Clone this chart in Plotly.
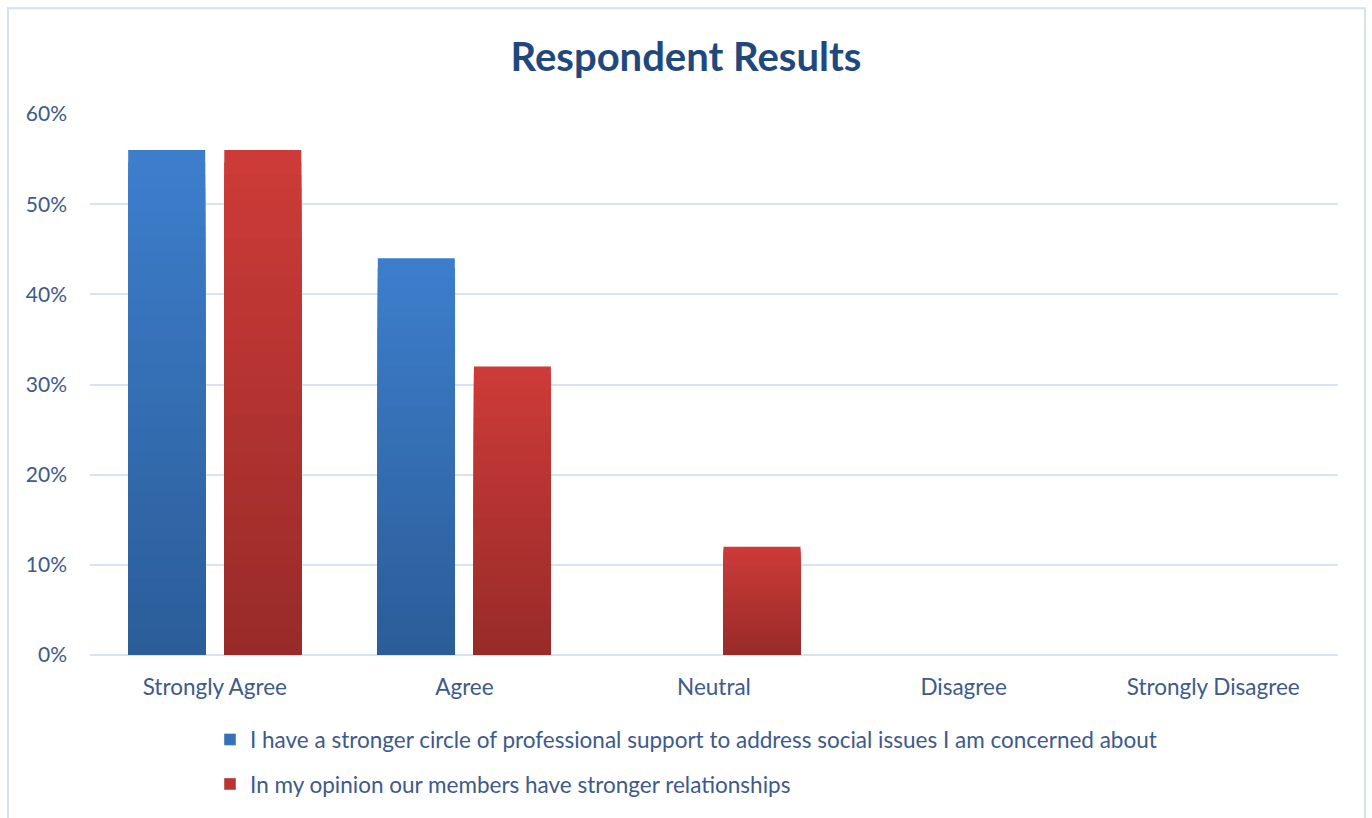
import plotly.graph_objects as go

categories = ["Strongly Agree", "Agree", "Neutral", "Disagree", "Strongly Disagree"]
series_names = [
    "I have a stronger circle of professional support to address social issues I am concerned about",
    "In my opinion our members have stronger relationships",
]
support_values = [0.56, 0.44, 0.0, 0.0, 0.0]
relationship_values = [0.56, 0.32, 0.12, 0.0, 0.0]
y_ticks = [0, 0.1, 0.2, 0.3, 0.4, 0.5, 0.6]

# style
top_colors = [(61, 126, 204), (205, 59, 56)]
bottom_colors = [(43, 93, 153), (152, 43, 41)]
offsets = [-0.347, 0.038]
bar_width = 0.3085
text_color = "#3d5a8a"
font_family = "Lato, 'Open Sans', sans-serif"
N_LAYERS = 40


def mix(c1, c2, t):
    return "rgb(%d,%d,%d)" % tuple(round(a + (b - a) * t) for a, b in zip(c1, c2))


fig = go.Figure()
for s, (name, vals) in enumerate(zip(series_names, [support_values, relationship_values])):
    for k in range(N_LAYERS):
        f = 1 - k / N_LAYERS
        col = mix(top_colors[s], bottom_colors[s], k / (N_LAYERS - 1))
        fig.add_trace(go.Bar(
            x=categories,
            y=[v * f for v in vals],
            name=name,
            width=bar_width,
            offset=offsets[s],
            marker=dict(color=col, line=dict(width=0)),
            showlegend=False,
            hoverinfo="skip",
        ))
    # legend entry
    fig.add_trace(go.Bar(
        x=categories,
        y=[None] * len(categories),
        name=name,
        marker=dict(color=mix(top_colors[s], bottom_colors[s], 0.4)),
        showlegend=True,
        legend="legend" if s == 0 else "legend2",
        hoverinfo="skip",
    ))

W, H = 1372, 818
ml, mr, mt, mb = 90, 34, 114, 157
pw, ph = W - ml - mr, H - mt - mb


def px_x(x):
    return (x - ml) / pw


def px_y(y):
    return (H - mb - y) / ph


fig.update_layout(
    width=W, height=H,
    margin=dict(l=ml, r=mr, t=mt, b=mb),
    barmode="overlay",
    paper_bgcolor="white",
    plot_bgcolor="white",
    font=dict(family=font_family, color=text_color, size=21),
    title=dict(
        text="<b>Respondent Results</b>",
        x=0.5, xref="container", xanchor="center",
        y=1 - 57 / H, yref="container", yanchor="middle",
        font=dict(family=font_family, size=40, color="#1f497d"),
    ),
    xaxis=dict(
        type="category",
        categoryorder="array", categoryarray=categories,
        showgrid=False, showline=False, zeroline=False,
        ticks="", ticklabelstandoff=16,
        tickfont=dict(size=22.5, color=text_color),
        range=[-0.5, 4.5],
    ),
    yaxis=dict(
        range=[0, 0.6],
        tickvals=y_ticks,
        tickformat=".0%",
        showgrid=True, gridcolor="#d9e4f1", gridwidth=1.5,
        zeroline=True, zerolinecolor="#d9e4f1", zerolinewidth=1.5,
        showline=False, ticks="", ticklabelstandoff=22,
        tickfont=dict(size=21, color=text_color),
    ),
    legend=dict(
        x=px_x(210), y=px_y(725), xanchor="left", yanchor="top",
        font=dict(size=22.5, color=text_color), bgcolor="rgba(0,0,0,0)",
        itemwidth=30,
    ),
    legend2=dict(
        x=px_x(210), y=px_y(770), xanchor="left", yanchor="top",
        font=dict(size=22.5, color=text_color), bgcolor="rgba(0,0,0,0)",
        itemwidth=30,
    ),
    shapes=[dict(
        type="rect", xref="paper", yref="paper",
        x0=px_x(8), x1=px_x(1365), y0=px_y(830), y1=px_y(7),
        line=dict(color="#d3e1f1", width=2), fillcolor="rgba(0,0,0,0)",
        layer="below",
    )],
)

fig.write_html("out.html")
